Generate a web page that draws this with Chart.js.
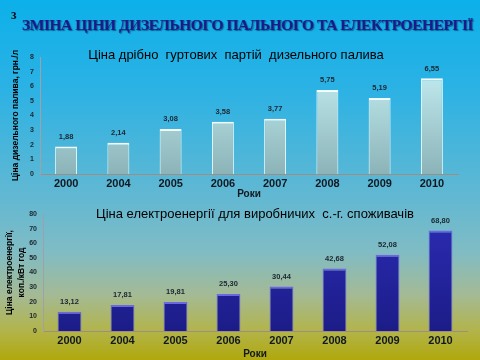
<!DOCTYPE html>
<html>
<head>
<meta charset="utf-8">
<script src="https://cdn.jsdelivr.net/npm/chart.js@4.4.1/dist/chart.umd.min.js"></script>
<style>
  html, body { margin: 0; padding: 0; }
  body {
    width: 480px; height: 360px; overflow: hidden; position: relative;
    background: linear-gradient(to bottom, #0cb0ea 0%, #2cb2e4 25%, #62b8d2 55%, #80bcc4 70%, #a4ba94 82%, #b2b44a 92%, #b0a80c 100%);
    font-family: "Liberation Sans", Arial, sans-serif;
  }
  #num { position: absolute; left: 11px; top: 9px; font: bold 11px "Liberation Serif", serif; color: #000; }
  #title {
    position: absolute; left: 22px; top: 16px; width: 456px; white-space: nowrap;
    font: bold 15.5px "Liberation Serif", "Times New Roman", serif; color: #1a1a8c;
    text-shadow: 1px 1px 1px rgba(0,0,40,0.45); letter-spacing: -0.45px;
  }
  canvas { position: absolute; left: 0; }
  #c1 { top: 40px; }
  #c2 { top: 200px; }
</style>
</head>
<body>
<div id="num">3</div>
<div id="title">ЗМІНА ЦІНИ ДИЗЕЛЬНОГО ПАЛЬНОГО ТА ЕЛЕКТРОЕНЕРГІЇ</div>
<canvas id="c1" width="480" height="160"></canvas>
<canvas id="c2" width="480" height="160"></canvas>
<script>
// Two bar charts: diesel price and electricity price by year.
const years = ['2000', '2004', '2005', '2006', '2007', '2008', '2009', '2010'];
const dieselPrice = [1.88, 2.14, 3.08, 3.58, 3.77, 5.75, 5.19, 6.55];
const powerPrice = [13.12, 17.81, 19.81, 25.30, 30.44, 42.68, 52.08, 68.80];
const dieselTicks = [0, 1, 2, 3, 4, 5, 6, 7, 8];
const powerTicks = [0, 10, 20, 30, 40, 50, 60, 70, 80];

const fmt = v => v.toFixed(2).replace('.', ',');

// draws value labels above bars + chart heading
const labelsPlugin = {
  id: 'valLabels',
  afterDatasetsDraw(chart, args, opts) {
    const ctx = chart.ctx;
    const meta = chart.getDatasetMeta(0);
    ctx.save();
    ctx.font = 'bold 7.5px "Liberation Sans", Arial, sans-serif';
    ctx.fillStyle = '#1c2630';
    ctx.textAlign = 'center';
    ctx.textBaseline = 'bottom';
    meta.data.forEach((bar, i) => {
      ctx.fillText(fmt(chart.data.datasets[0].data[i]), bar.x, bar.y - 6);
    });
    ctx.font = '13px "Liberation Sans", Arial, sans-serif';
    ctx.fillStyle = '#000';
    ctx.textBaseline = 'middle';
    ctx.fillText(opts.heading, opts.hx, opts.hy);
    ctx.restore();
  }
};

function barFill(top, bottom) {
  return c => {
    const ch = c.chart;
    if (!ch.chartArea) return top;
    const g = ch.ctx.createLinearGradient(0, ch.chartArea.top, 0, ch.chartArea.bottom);
    g.addColorStop(0, top);
    g.addColorStop(1, bottom);
    return g;
  };
}

function makeChart(id, data, ticks, opt) {
  return new Chart(document.getElementById(id), {
    type: 'bar',
    data: {
      labels: years,
      datasets: [{
        data,
        backgroundColor: opt.fill,
        borderColor: opt.border,
        borderWidth: { top: 2, left: 1, right: 1, bottom: 0 },
        borderSkipped: false,
        barPercentage: opt.bar,
        categoryPercentage: 1
      }]
    },
    plugins: [labelsPlugin],
    options: {
      responsive: false,
      animation: false,
      layout: { padding: { top: opt.padTop, right: opt.padRight, left: 0, bottom: 0 } },
      plugins: {
        legend: { display: false },
        tooltip: { enabled: false },
        valLabels: { heading: opt.heading, hx: opt.hx, hy: opt.hy }
      },
      scales: {
        x: {
          grid: { display: false, drawTicks: false },
          border: { color: '#a08c80', width: 1 },
          ticks: { color: '#101820', font: { size: 11, weight: 'bold' }, padding: 3 },
          title: { display: true, text: 'Роки', color: '#101820', font: { size: 10, weight: 'bold' }, padding: { top: opt.xtpad, bottom: 0 } },
          afterFit: s => { s.height = opt.xh; }
        },
        y: {
          min: 0, max: ticks[ticks.length - 1],
          afterBuildTicks: s => { s.ticks = ticks.map(v => ({ value: v })); },
          grid: { display: false, drawTicks: false },
          border: { color: '#a0a0a8', width: 1 },
          ticks: { color: '#1c2630', font: { size: 7, weight: 'bold' }, padding: 6 },
          title: { display: true, text: opt.ytitle, color: '#000', font: { size: 8.5, weight: 'bold', lineHeight: 1.4 }, padding: { top: opt.ytpad, bottom: 0 } },
          afterFit: s => { s.width = opt.yw; }
        }
      }
    }
  });
}

makeChart('c1', dieselPrice, dieselTicks, {
  fill: barFill('#c8f2f6', '#8cb4b8'),
  border: '#f4ffff',
  bar: 0.42,
  padTop: 17, padRight: 22, xh: 26, yw: 40, ytpad: 10, xtpad: -6,
  ytitle: 'Ціна дизельного палива, грн./л',
  heading: 'Ціна дрібно  гуртових  партій  дизельного палива',
  hx: 236, hy: 15
});

makeChart('c2', powerPrice, powerTicks, {
  fill: barFill('#2c2cb4', '#1c1c88'),
  border: '#6a6ae0',
  bar: 0.45,
  padTop: 14, padRight: 13, xh: 29, yw: 43, ytpad: 4, xtpad: -3,
  ytitle: ['Ціна електроенергії,', 'коп./кВт год'],
  heading: 'Ціна електроенергії для виробничих  с.-г. споживачів',
  hx: 255, hy: 14
});
</script>
</body>
</html>
